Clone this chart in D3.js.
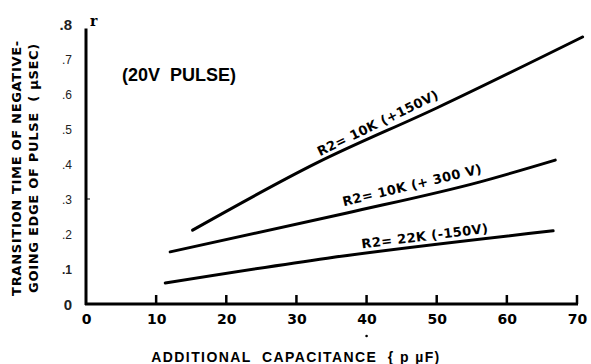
<!DOCTYPE html>
<html><head><meta charset="utf-8">
<script src="https://cdn.jsdelivr.net/npm/d3@7"></script>
<style>body{margin:0;background:#fff}svg{display:block}</style>
</head><body>
<script>
const xTicks = [0,10,20,30,40,50,60,70];
const yTicks = [0,0.1,0.2,0.3,0.4,0.5,0.6,0.7,0.8];
const yTickLabels = ["0",".1",".2",".3",".4",".5",".6",".7",".8"];
const seriesNames = ["R2= 10K (+150V)","R2= 10K (+ 300 V)","R2= 22K (-150V)"];
const s1x = [15.2,32.9,50.0,70.8];
const s1y = [0.211,0.403,0.56,0.763];
const s2x = [12.0,37.2,56.2,66.9];
const s2y = [0.149,0.26,0.349,0.411];
const s3x = [11.3,34.4,66.6];
const s3y = [0.06,0.131,0.209];
const labelX = [41.6,46.5,48.3];
const labelY = [0.517,0.34,0.194];

const W=591,H=364;
const svg=d3.select("body").append("svg").attr("width",W).attr("height",H);
const x=d3.scaleLinear().domain([0,70]).range([86,577]);
const y=d3.scaleLinear().domain([0,0.8]).range([304,24]);

// axes lines
svg.append("line").attr("x1",x(0)).attr("x2",x(0)).attr("y1",y(0)+1).attr("y2",y(0.787)).attr("stroke","#000").attr("stroke-width",3);
svg.append("line").attr("x1",x(0)-1).attr("x2",x(70)+1).attr("y1",y(0)).attr("y2",y(0)).attr("stroke","#000").attr("stroke-width",3);

// x ticks
const xa=d3.axisBottom(x).tickValues(xTicks).tickSize(0).tickFormat(d=>d);
const gx=svg.append("g").attr("transform",`translate(0,${y(0)})`).call(xa);
gx.select(".domain").remove();
gx.selectAll("text").attr("y",20).attr("dy",0).attr("font-family","'DejaVu Sans', sans-serif").attr("font-weight","bold").attr("font-size",14).attr("fill","#000");
svg.selectAll(".xt").data(xTicks.slice(1)).enter().append("line")
 .attr("x1",d=>x(d)).attr("x2",d=>x(d)).attr("y1",y(0)).attr("y2",y(0)-9).attr("stroke","#000").attr("stroke-width",2.5);

// y tick labels
const ya=d3.axisLeft(y).tickValues(yTicks).tickSize(0).tickFormat((d,i)=>yTickLabels[i]);
const gy=svg.append("g").attr("transform",`translate(${x(0)-11},0)`).call(ya);
gy.select(".domain").remove();
gy.selectAll("text").attr("dy","0.35em").attr("font-family","'Liberation Sans', sans-serif").attr("fill","#222")
 .attr("font-weight",(d)=> (d===0||d===0.1||d===0.8)?"bold":"normal")
 .attr("font-size",(d)=> (d===0||d===0.8)?15:12);
svg.append("line").attr("x1",x(0)).attr("x2",x(0)+4).attr("y1",y(0.3)).attr("y2",y(0.3)).attr("stroke","#000").attr("stroke-width",1);
svg.append("text").attr("x",x(0)+4).attr("y",y(0.8)+2).attr("font-family","'DejaVu Serif', serif").attr("font-size",14).attr("font-weight","bold").text("r");

// series
const line=d3.line().curve(d3.curveMonotoneX).x(d=>x(d[0])).y(d=>y(d[1]));
const series=[d3.zip(s1x,s1y),d3.zip(s2x,s2y),d3.zip(s3x,s3y)];
svg.selectAll(".s").data(series).enter().append("path").attr("d",line).attr("fill","none").attr("stroke","#000").attr("stroke-width",3).attr("stroke-linecap","round").attr("stroke-linejoin","round");

// labels along lines
const angles=[-26,-13.5,-7.2];
seriesNames.forEach((n,i)=>{
  svg.append("text").attr("transform",`translate(${x(labelX[i])},${y(labelY[i])}) rotate(${angles[i]})`)
   .attr("text-anchor","middle").attr("dy","0.35em").attr("font-family","'DejaVu Sans', sans-serif").attr("font-weight","bold").attr("font-size",13).attr("letter-spacing",0.4).attr("fill","#000").attr("xml:space","preserve").text(n);
});

svg.append("text").attr("x",122).attr("y",81).attr("font-family","'Liberation Sans', Arial, sans-serif").attr("font-weight","bold").attr("font-size",18).attr("xml:space","preserve").text("(20V  PULSE)");

// axis titles
svg.append("text").attr("transform","translate(21,168) rotate(-90)").attr("text-anchor","middle").attr("font-family","'DejaVu Sans', sans-serif").attr("font-weight","bold").attr("font-size",13).attr("letter-spacing",0.7).text("TRANSITION TIME OF NEGATIVE-");
svg.append("text").attr("transform","translate(38,168) rotate(-90)").attr("text-anchor","middle").attr("font-family","'DejaVu Sans', sans-serif").attr("font-weight","bold").attr("font-size",13).attr("letter-spacing",0.7).attr("xml:space","preserve").text("GOING EDGE OF PULSE  ( µSEC)");
svg.append("text").attr("x",296).attr("y",362).attr("text-anchor","middle").attr("font-family","'Liberation Sans', Arial, sans-serif").attr("font-weight","bold").attr("font-size",14).attr("letter-spacing",1.4).attr("xml:space","preserve").text("ADDITIONAL  CAPACITANCE  { p µF)");
svg.append("circle").attr("cx",x(40)).attr("cy",y(0)+32).attr("r",1.3).attr("fill","#000");
</script>
</body></html>
